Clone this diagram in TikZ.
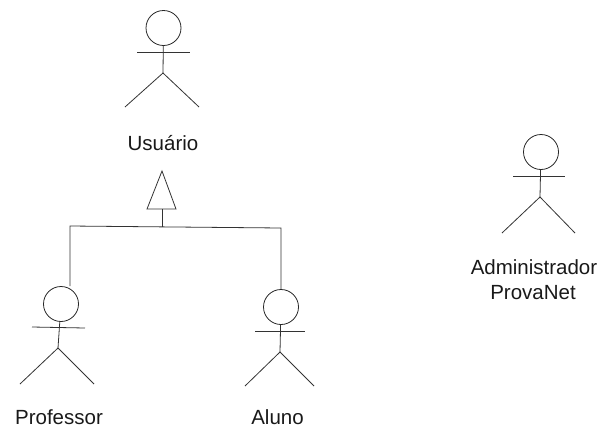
\documentclass[tikz,border=0pt]{standalone}
\usepackage{fontspec}
\setmainfont{Liberation Sans}
\tikzset{
  head/.style={circle,draw=black!85,line width=.8pt,minimum size=35pt,inner sep=0pt},
  lbl/.style={font=\fontsize{20.5}{24}\selectfont,text=black!90,inner sep=0pt},
  ln/.style={draw=black!80,line width=.8pt}
}
\begin{document}
\begin{tikzpicture}[x=1pt,y=-1pt]
\useasboundingbox (0,0) rectangle (603,429);
% Usuario
\node[head] (uh) at (163.5,28) {};
\coordinate (ual) at (137,52); \coordinate (uar) at (190,52);
\coordinate (uhip) at (163,73);
\coordinate (ufl) at (125,107); \coordinate (ufr) at (199,107);
\draw[ln] (uh) -- (uhip);
\draw[ln] (ual) -- (uar);
\draw[ln] (ufl) -- (uhip) -- (ufr);
\node[lbl] (ut) at (163,143) {Usuário};
% Generalization
\coordinate (ta) at (162,171); \coordinate (tl) at (147,209); \coordinate (tr) at (176,209);
\coordinate (tb) at (162,209); \coordinate (bj) at (162,227);
\coordinate (bl) at (70,226); \coordinate (br) at (281,228);
\draw[ln] (ta) -- (tl) -- (tr) -- cycle;
\draw[ln] (tb) -- (bj);
% Professor
\node[head] (ph) at (61,304) {};
\coordinate (pal) at (32,327); \coordinate (par) at (85,328);
\coordinate (phip) at (58,348);
\coordinate (pfl) at (20,384); \coordinate (pfr) at (94,384);
\draw[ln] (ph) -- (phip);
\draw[ln] (pal) -- (par);
\draw[ln] (pfl) -- (phip) -- (pfr);
\node[lbl] (pt) at (59,417) {Professor};
% Aluno
\node[head] (ah) at (281,307) {};
\coordinate (aal) at (255,331); \coordinate (aar) at (305,331);
\coordinate (ahip) at (280,352);
\coordinate (afl) at (245,386); \coordinate (afr) at (314,386);
\draw[ln] (ah) -- (ahip);
\draw[ln] (aal) -- (aar);
\draw[ln] (afl) -- (ahip) -- (afr);
\node[lbl] (at) at (277.5,417) {Aluno};
% Connector bar
\draw[ln] (ph.north -| bl) -- (bl) -- (br) -- (ah.north);
% Administrador
\node[head] (dh) at (541,152) {};
\coordinate (dal) at (513,176); \coordinate (dar) at (565,176);
\coordinate (dhip) at (540,197);
\coordinate (dfl) at (502,233); \coordinate (dfr) at (575,233);
\draw[ln] (dh) -- (dhip);
\draw[ln] (dal) -- (dar);
\draw[ln] (dfl) -- (dhip) -- (dfr);
\node[lbl] (dt) at (534,267) {Administrador};
\node[lbl] (dt2) at (533,293) {ProvaNet};
\end{tikzpicture}
\end{document}
